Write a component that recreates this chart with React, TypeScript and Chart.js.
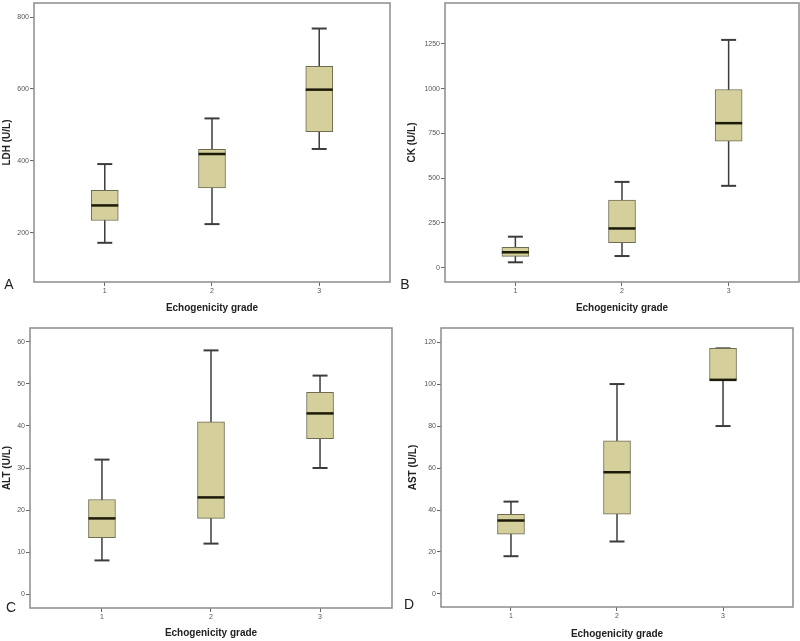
import React, { useEffect, useRef } from 'react';
import { Chart, registerables } from 'chart.js';

Chart.register(...registerables);

// ---- data ----
const GRADES = [1, 2, 3];
const GRADE_TICKS = [1, 2, 3];
const X_TITLE = 'Echogenicity grade';

const LDH_MIN = [172, 224, 433];
const LDH_Q1 = [234, 325, 481];
const LDH_MED = [276, 419, 598];
const LDH_Q3 = [318, 432, 663];
const LDH_MAX = [391, 518, 768];
const LDH_TICKS = [200, 400, 600, 800];

const CK_MIN = [30, 65, 457];
const CK_Q1 = [63, 139, 707];
const CK_MED = [86, 219, 807];
const CK_Q3 = [113, 377, 995];
const CK_MAX = [173, 479, 1272];
const CK_TICKS = [0, 250, 500, 750, 1000, 1250];

const ALT_MIN = [8, 12, 30];
const ALT_Q1 = [13.4, 18, 37];
const ALT_MED = [18, 23, 43];
const ALT_Q3 = [22.5, 41, 48];
const ALT_MAX = [32, 58, 52];
const ALT_TICKS = [0, 10, 20, 30, 40, 50, 60];

const AST_MIN = [18, 25, 80];
const AST_Q1 = [28.5, 38, 102];
const AST_MED = [35, 58, 102];
const AST_Q3 = [38, 73, 117];
const AST_MAX = [44, 100, 117];
const AST_TICKS = [0, 20, 40, 60, 80, 100, 120];

// ---- styles ----
const FONT = "'Liberation Sans', Arial, sans-serif";
const BOX_FILL = '#d4cf9b';
const BOX_BORDER = '#6e6d52';
const WHISKER = '#3c3c3c';
const MEDIAN = '#1c1a08';
const FRAME = '#8c8c8c';
const TICK_COLOR = '#555555';
const TITLE_COLOR = '#222222';

type PanelCfg = {
  letter: string;
  yTitle: string;
  x: number; y: number; w: number; h: number;
  area: { l: number; t: number; r: number; b: number };
  yMin: number; yMax: number;
  ticks: number[];
  min: number[]; q1: number[]; med: number[]; q3: number[]; max: number[];
  yTitlePad: number;
  xTitlePad: number;
  letterPos: [number, number];
};

const PANELS: PanelCfg[] = [
  {
    letter: 'A', yTitle: 'LDH (U/L)', x: 0, y: 0, w: 400, h: 320,
    area: { l: 34, t: 3, r: 390, b: 282 }, yMin: 63, yMax: 839, ticks: LDH_TICKS,
    min: LDH_MIN, q1: LDH_Q1, med: LDH_MED, q3: LDH_Q3, max: LDH_MAX,
    yTitlePad: 1, xTitlePad: 6, letterPos: [9, 285],
  },
  {
    letter: 'B', yTitle: 'CK (U/L)', x: 400, y: 0, w: 400, h: 320,
    area: { l: 45, t: 3, r: 399, b: 282 }, yMin: -80, yMax: 1478, ticks: CK_TICKS,
    min: CK_MIN, q1: CK_Q1, med: CK_MED, q3: CK_Q3, max: CK_MAX,
    yTitlePad: 6, xTitlePad: 6, letterPos: [5, 285],
  },
  {
    letter: 'C', yTitle: 'ALT (U/L)', x: 0, y: 320, w: 400, h: 321,
    area: { l: 30, t: 8, r: 392, b: 288 }, yMin: -3.33, yMax: 63.33, ticks: ALT_TICKS,
    min: ALT_MIN, q1: ALT_Q1, med: ALT_MED, q3: ALT_Q3, max: ALT_MAX,
    yTitlePad: 1, xTitlePad: 2, letterPos: [11, 288],
  },
  {
    letter: 'D', yTitle: 'AST (U/L)', x: 400, y: 320, w: 400, h: 321,
    area: { l: 41, t: 8, r: 393, b: 287 }, yMin: -6.2, yMax: 126.7, ticks: AST_TICKS,
    min: AST_MIN, q1: AST_Q1, med: AST_MED, q3: AST_Q3, max: AST_MAX,
    yTitlePad: 7, xTitlePad: 1, letterPos: [9, 285],
  },
];

const BOX_WIDTH = 27;
const CAP_HALF = 7.5;

function BoxPanel({ p }: { p: PanelCfg }) {
  const ref = useRef<HTMLCanvasElement>(null);

  useEffect(() => {
    const canvas = ref.current;
    if (!canvas) return;

    const boxPlugin = {
      id: 'boxplotExtras',
      beforeDatasetsDraw(chart: any) {
        const { ctx } = chart;
        const xs = chart.scales.x;
        const ys = chart.scales.y;
        ctx.save();
        ctx.strokeStyle = WHISKER;
        ctx.lineWidth = 1.5;
        GRADES.forEach((g, i) => {
          const px = xs.getPixelForValue(g);
          const yLo = ys.getPixelForValue(p.min[i]);
          const yHi = ys.getPixelForValue(p.max[i]);
          ctx.beginPath();
          ctx.moveTo(px, yLo);
          ctx.lineTo(px, yHi);
          ctx.stroke();
        });
        ctx.lineWidth = 2;
        GRADES.forEach((g, i) => {
          const px = xs.getPixelForValue(g);
          [p.min[i], p.max[i]].forEach((v) => {
            const py = ys.getPixelForValue(v);
            ctx.beginPath();
            ctx.moveTo(px - CAP_HALF, py);
            ctx.lineTo(px + CAP_HALF, py);
            ctx.stroke();
          });
        });
        ctx.restore();
      },
      afterDatasetsDraw(chart: any) {
        const { ctx } = chart;
        const xs = chart.scales.x;
        const ys = chart.scales.y;
        ctx.save();
        ctx.strokeStyle = MEDIAN;
        ctx.lineWidth = 2.5;
        GRADES.forEach((g, i) => {
          const px = xs.getPixelForValue(g);
          const py = ys.getPixelForValue(p.med[i]);
          ctx.beginPath();
          ctx.moveTo(px - BOX_WIDTH / 2, py);
          ctx.lineTo(px + BOX_WIDTH / 2, py);
          ctx.stroke();
        });
        ctx.restore();
      },
      afterDraw(chart: any) {
        const { ctx, chartArea } = chart;
        ctx.save();
        ctx.strokeStyle = FRAME;
        ctx.lineWidth = 1.5;
        ctx.strokeRect(chartArea.left, chartArea.top, chartArea.right - chartArea.left, chartArea.bottom - chartArea.top);
        ctx.fillStyle = TITLE_COLOR;
        ctx.font = `14px ${FONT}`;
        ctx.textAlign = 'center';
        ctx.textBaseline = 'middle';
        ctx.fillText(p.letter, p.letterPos[0], p.letterPos[1]);
        ctx.restore();
      },
    };

    const chart = new Chart(canvas, {
      type: 'bar',
      data: {
        datasets: [
          {
            data: GRADES.map((g, i) => ({ x: g, y: [p.q1[i], p.q3[i]] })) as any,
            backgroundColor: BOX_FILL,
            borderColor: BOX_BORDER,
            borderWidth: 1,
            borderSkipped: false,
            barThickness: BOX_WIDTH,
          },
        ],
      },
      options: {
        animation: false,
        responsive: false,
        devicePixelRatio: 1,
        events: [],
        layout: {
          padding: { left: 0, top: p.area.t, right: p.w - p.area.r, bottom: 0 },
        },
        plugins: {
          legend: { display: false },
          tooltip: { enabled: false },
        },
        scales: {
          x: {
            type: 'linear',
            offset: false,
            min: 0.34,
            max: 3.66,
            afterBuildTicks: (s: any) => {
              s.ticks = GRADE_TICKS.map((v) => ({ value: v }));
            },
            afterFit: (s: any) => {
              s.height = p.h - p.area.b;
              s.paddingLeft = 0;
              s.paddingRight = 0;
            },
            grid: {
              display: true,
              offset: false,
              drawOnChartArea: false,
              drawTicks: true,
              tickLength: 4,
              color: '#666666',
              lineWidth: 1,
            },
            border: { display: false },
            ticks: {
              autoSkip: false,
              maxRotation: 0,
              padding: 1,
              color: TICK_COLOR,
              font: { family: FONT, size: 7 },
              callback: (v: any) => String(v),
            },
            title: {
              display: true,
              text: X_TITLE,
              color: TITLE_COLOR,
              font: { family: FONT, size: 10, weight: 'bold' },
              padding: { top: 0, bottom: p.xTitlePad },
            },
          },
          y: {
            type: 'linear',
            min: p.yMin,
            max: p.yMax,
            afterBuildTicks: (s: any) => {
              s.ticks = p.ticks.map((v) => ({ value: v }));
            },
            afterFit: (s: any) => {
              s.width = p.area.l;
              s.paddingTop = 0;
              s.paddingBottom = 0;
            },
            grid: {
              display: true,
              drawOnChartArea: false,
              drawTicks: true,
              tickLength: 4,
              color: '#666666',
              lineWidth: 1,
            },
            border: { display: false },
            ticks: {
              padding: 1,
              color: TICK_COLOR,
              font: { family: FONT, size: 7 },
              callback: (v: any) => String(v),
            },
            title: {
              display: true,
              text: p.yTitle,
              color: TITLE_COLOR,
              font: { family: FONT, size: 10, weight: 'bold' },
              padding: { top: p.yTitlePad, bottom: 0 },
            },
          },
        },
      } as any,
      plugins: [boxPlugin],
    });

    return () => chart.destroy();
  }, [p]);

  return (
    <canvas
      ref={ref}
      width={p.w}
      height={p.h}
      style={{ position: 'absolute', left: p.x, top: p.y, width: p.w, height: p.h }}
    />
  );
}

export default function App() {
  return (
    <div style={{ position: 'absolute', left: 0, top: 0, width: 800, height: 641, background: '#ffffff' }}>
      {PANELS.map((p) => (
        <BoxPanel key={p.letter} p={p} />
      ))}
    </div>
  );
}
